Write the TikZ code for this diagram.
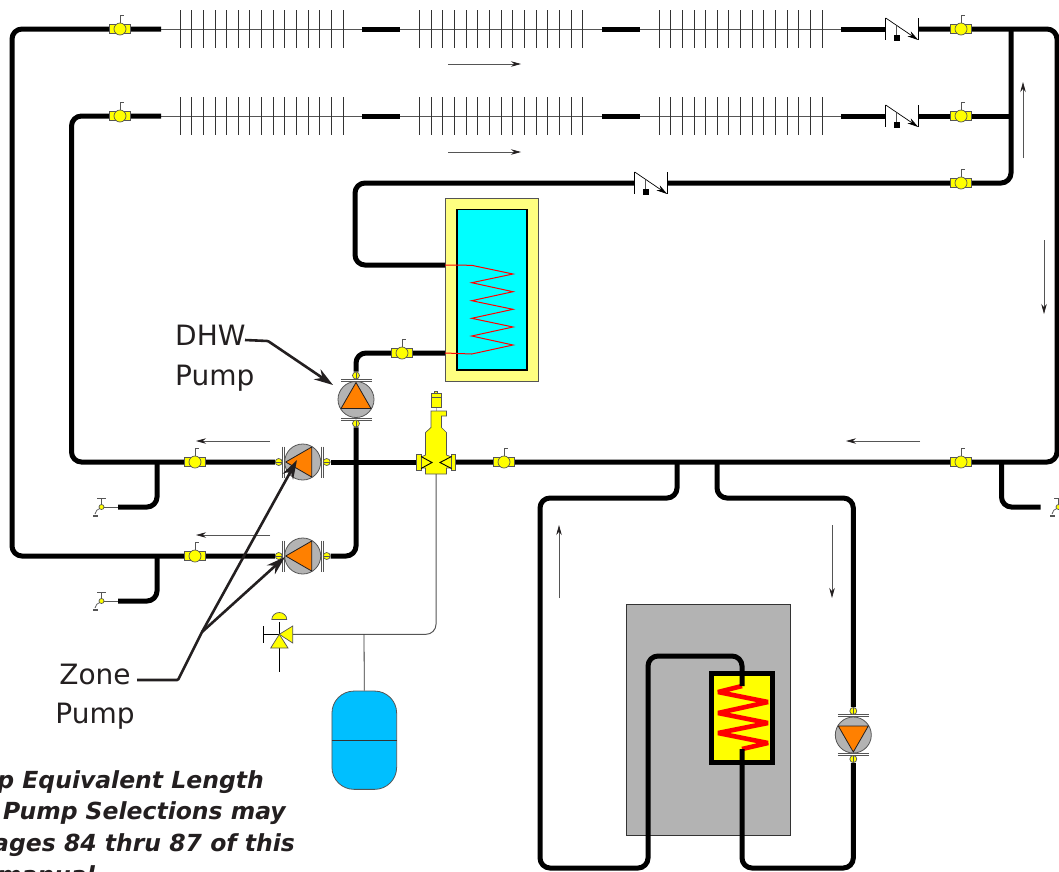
\documentclass[tikz,border=0pt]{standalone}
\usepackage{fontspec}
\setmainfont{DejaVu Sans}
\usetikzlibrary{arrows.meta,backgrounds}
\definecolor{inkdark}{HTML}{231F20}
\definecolor{trimgray}{HTML}{555555}
\definecolor{casegray}{HTML}{B3B3B3}
\definecolor{impeller}{HTML}{FF8000}
\definecolor{tankyellow}{HTML}{FFFF80}
\definecolor{vesselblue}{HTML}{00BFFF}
\definecolor{puryellow}{HTML}{FFFF00}
\definecolor{purcyan}{HTML}{00FFFF}
\definecolor{purred}{HTML}{FF0000}
\tikzset{
  pipe/.style={line width=5pt,black,rounded corners=10pt,line cap=butt},
  fine/.style={trimgray,line width=.7pt},
  flow/.style={fine,-{Stealth[length=10pt,width=5.5pt,inkdark]}},
  trim/.style={draw=trimgray,fill=puryellow,line width=.7pt},
  leader/.style={inkdark,line width=2.6pt,rounded corners=1pt},
  leadertip/.style={leader,-{Stealth[length=19pt,width=12pt]}},
  ballknob/.style={circle,trim,inner sep=0pt,minimum size=12pt},
  pumpcase/.style={circle,draw=trimgray,fill=casegray,line width=.8pt,inner sep=0pt,minimum size=36pt},
  pumpport/.style={circle,trim,inner sep=0pt,minimum size=7pt},
  pumplabel/.style={inkdark,font=\fontsize{28}{39.5}\selectfont,inner sep=0pt},
  notetext/.style={inkdark,font=\fontsize{23.5}{28}\selectfont\bfseries\itshape,inner sep=0pt,anchor=base east},
  ballvalve/.pic={
    \draw[trim] (-10.8,-4.4) rectangle (10.8,4.4);
    \node[ballknob] (-ball) at (0,0) {};
    \draw[fine] (0,-6) -- (0,-13.7) -- (4,-13.7);
  },
  checkvalve/.pic={
    \draw[black,line width=.9pt] (0,-11) -- (0,11);
    \draw[black,line width=.9pt] (32.5,-11) -- (32.5,11);
    \draw[black,line width=.7pt,-{Stealth[length=11pt,width=6pt]}] (0,-11) -- (32.5,11);
    \draw[fine] (11,-3.5) -- (11,6);
    \fill[black] (8,6) rectangle (14,12);
    \coordinate (-l) at (0,0);
    \coordinate (-r) at (32.5,0);
  },
  radiator/.pic={
    \foreach \finx in {0,...,14}
      \draw[black!80,line width=.9pt] (\finx*11.65,-19) -- (\finx*11.65,19);
  },
  pumpunit/.pic={
    \node[pumpcase] (-case) at (0,0) {};
    \draw[draw=inkdark,fill=impeller,line width=.8pt] (-17,0) -- (9,-15) -- (9,15) -- cycle;
    \foreach \barx in {-20,-18.2,18.8,20.6}
      \draw[trimgray,line width=.7pt] (\barx,-15.5) -- (\barx,15.5);
    \node[pumpport] (-in) at (-24,0) {};
    \node[pumpport] (-out) at (24,0) {};
    \draw[trimgray,line width=.4pt] (-27,0) -- (-21,0) (21,0) -- (27,0);
  },
  drainvalve/.pic={
    \draw[fine] (0,0) -- (0,-9) (-4.5,-9) -- (4.5,-9) (0,0) -- (16.5,0);
    \draw[fine] (-1,1) .. controls (-4,2) and (-6,4) .. (-6.5,7);
    \draw[fine] (-8.5,8) -- (-4,8) (-8.5,9.5) -- (-4,9.5);
    \node[circle,trim,inner sep=0pt,minimum size=5pt] (-knob) at (0,0) {};
    \coordinate (-r) at (16.5,0);
  },
}
\begin{document}
\begin{tikzpicture}[x=1pt,y=-1pt]
  \useasboundingbox (0,0) rectangle (1059,871);
  \clip (0,0) rectangle (1059,871);
  % valves and pumps
  \foreach \valvename/\valvex/\valvey in {vup/120/29,vlow/120/116,vupr/961/29,vlowr/961/116,vdhw/961/183,
    vtank/402/353,vmain/504/462,vret/961/462,vza/195/462,vzb/195/556}
    \pic (\valvename) at (\valvex,\valvey) {ballvalve};
  \pic (chkup) at (885.7,29) {checkvalve};
  \pic (chklow) at (885.7,116) {checkvalve};
  \pic (chkdhw) at (634.7,183) {checkvalve};
  \pic (pza) at (302.7,462) {pumpunit};
  \pic (pzb) at (302.7,556) {pumpunit};
  \pic[rotate=-90] (pdhw) at (356,399.5) {pumpunit};
  \pic[rotate=90] (pboil) at (853.3,735) {pumpunit};
  \pic (dra) at (101.5,507) {drainvalve};
  \pic (drb) at (101.5,601) {drainvalve};
  \pic (drc) at (1058.5,507) {drainvalve};
  % corners
  \foreach \cname/\cx/\cy in {cnw/12/29,csw/12/556,cmw/71.5/116,cms/71.5/462,cne/1057/29,cse/1057/462,
    triser/1011/29,tlow/1011/116,crise/1011/183,cdhwa/355/183,cdhwb/355/265,ctanka/445/265,ctankb/445/353,
    cdhwc/356/353,cdhwd/356/556,tda/157/462,cda/157/507,tdb/157/556,cdb/157/601,tdc/1001.5/462,cdc/1001.5/507,
    tba/677/462,cba/677/498,cbb/540/498,cbc/540/868,cbd/648/868,cbe/648/656,cbf/742/656,cbg/742/686,
    cbh/742/749,cbi/742/868,cbj/853.3/868,cbk/853.3/498,cbl/717/498,tbb/717/462}
    \coordinate (\cname) at (\cx,\cy);
  % separator
  \begin{scope}[shift={(436,462)}]
    \draw[casegray,line width=.8pt] (0,-54.5) -- (0,-51);
    \draw[trim] (-4.5,-65) rectangle (5,-54.5);
    \draw[trim] (-5,-69) rectangle (5.5,-65);
    \draw[trim] (-1.5,-71) rectangle (1.5,-69);
    \draw[trim] (-5,-34.5) -- (-5,-51) -- (10.5,-51) -- (10.5,-46) -- (5.5,-46) -- (5.5,-34.5) -- (10.5,-29.5)
      -- (10.5,-7) -- (15.5,-5) -- (15.5,6) -- (10.5,6) -- (10.5,12) -- (-10.5,12) -- (-10.5,6) -- (-15,6)
      -- (-15,-5) -- (-10.5,-7) -- (-10.5,-29.5) -- cycle;
    \draw[trim] (-19.5,-7.5) rectangle (-15,8.5);
    \draw[trim] (15.5,-7.5) rectangle (19.5,8.5);
    \draw[black,line width=.9pt] (-15,-5.5) -- (-4,.5) -- (-15,6.5);
    \draw[black,line width=.9pt] (15.5,-5.5) -- (4,.5) -- (15.5,6.5);
    \coordinate (sepl) at (-19.5,0);
    \coordinate (sepr) at (19.5,0);
    \coordinate (sepb) at (0,12);
  \end{scope}
  \begin{scope}[on background layer]
    % tank
    \draw[draw=trimgray,fill=tankyellow,line width=1pt] (445.5,198) rectangle (538.5,381);
    \draw[draw=black,fill=purcyan,line width=1.3pt] (457,209.5) rectangle (527,370);
    % boiler
    \draw[draw=black!80,fill=casegray,line width=1.2pt] (626.5,604.7) rectangle (790.7,835.5);
    \draw[draw=black,fill=puryellow,line width=5pt] (711.5,673.5) rectangle (772.5,762.5);
    \draw[purred,line width=4.6pt,line join=bevel] (cbg) -- (718,692) -- (768,702) -- (718,713) -- (768,723) -- (718,733) -- (768,743) -- (cbh);
    % radiators
    \foreach \rowname/\rowy in {up/29,low/116} {
      \coordinate (\rowname in) at (161,\rowy);
      \coordinate (\rowname out) at (841,\rowy);
      \draw[fine] (\rowname in) -- (\rowname out);
      \foreach \finstart in {180,419.5,659}
        \pic at (\finstart,\rowy) {radiator};
      \draw[pipe] (362,\rowy) -- (400,\rowy);
      \draw[pipe] (602,\rowy) -- (640,\rowy);
    }
    % pipes
    \draw[pipe] (upin) -- (vup-ball) -- (cnw) -- (csw) -- (vzb-ball) -- (pzb-in);
    \draw[pipe] (lowin) -- (vlow-ball) -- (cmw) -- (cms) -- (vza-ball) -- (pza-in);
    \draw[pipe] (upout) -- (chkup-l);
    \draw[pipe] (lowout) -- (chklow-l);
    \draw[pipe] (chkup-r) -- (vupr-ball) -- (cne) -- (cse) -- (vret-ball) -- (vmain-ball) -- (sepr);
    \draw[pipe] (chklow-r) -- (vlowr-ball) -- (tlow);
    \draw[pipe] (triser) -- (crise) -- (vdhw-ball) -- (chkdhw-r);
    \draw[pipe] (chkdhw-l) -- (cdhwa) -- (cdhwb) -- (ctanka);
    \draw[pipe] (ctankb) -- (vtank-ball) -- (cdhwc) -- (pdhw-in);
    \draw[pipe] (pdhw-out) -- (cdhwd) -- (pzb-out);
    \draw[pipe] (pza-out) -- (sepl);
    \draw[pipe] (tda) -- (cda) -- (dra-r);
    \draw[pipe] (tdb) -- (cdb) -- (drb-r);
    \draw[pipe] (tdc) -- (cdc) -- (1040.5,507);
    \draw[pipe] (tba) -- (cba) -- (cbb) -- (cbc) -- (cbd) -- (cbe) -- (cbf) -- (cbg);
    \draw[pipe] (cbh) -- (cbi) -- (cbj) -- (pboil-in);
    \draw[pipe] (pboil-out) -- (cbk) -- (cbl) -- (tbb);
  \end{scope}
  % coil
  \draw[purred,line width=1pt] (ctanka) -- (471.7,265.3) -- (513,274) -- (471.7,282.7) -- (513,291.7) -- (471.7,300.7)
    -- (513,309.3) -- (471.7,318.3) -- (513,327) -- (471.7,336) -- (513,345) -- (471.7,354) -- (ctankb);
  % relief line and expansion vessel
  \coordinate (relief) at (279.3,634.3);
  \coordinate (reliefend) at (292.7,634.3);
  \coordinate (linecorner) at (436,634.3);
  \coordinate (teevessel) at (364,634.3);
  \node[draw=trimgray,fill=vesselblue,rounded corners=22pt,line width=.8pt,minimum width=64.7pt,minimum height=98.3pt,inner sep=0pt] (vessel) at (364.3,740.2) {};
  \draw[trimgray,line width=1pt,rounded corners=10pt] (sepb) -- (linecorner) -- (reliefend);
  \draw[black!80,line width=.8pt] (teevessel) -- (vessel.north);
  \draw[black!80,line width=.8pt] (vessel.west) -- (vessel.east);
  \draw[black,line width=.8pt] (263.3,626) -- (263.3,643) (263.3,634.3) -- (relief) (relief |- 0,622) -- (relief |- 0,672);
  \draw[trim] (relief) -- (292.7,626) -- (292.7,643) -- cycle;
  \draw[trim] (relief) -- (288,648) -- (270.7,648) -- cycle;
  \draw[trim] (271.8,619.5) arc[start angle=180,end angle=360,x radius=7.5,y radius=7] -- cycle;
  % flow arrows
  \foreach \fax/\fay/\fbx/\fby in {448/64/521/64,448/152/521/152,1023/158/1023/82,1044/240/1044/314,920/441/846/441,
    270/441/196/441,270/535/196/535,559/598/559/525,832/525/832/598}
    \draw[flow] (\fax,\fay) -- (\fbx,\fby);
  % labels
  \node[pumplabel,align=left,anchor=north west] (dhwlabel) at (175,325) {DHW\\Pump};
  \node[pumplabel,align=center] (zonelabel) at (95,696.5) {Zone\\Pump};
  \coordinate (dhwa) at (245,340);
  \coordinate (dhwb) at (268,341);
  \coordinate (zonea) at (137,680);
  \coordinate (zoneb) at (178,680);
  \coordinate (zonec) at (202,632);
  \coordinate (tipa) at (297,460);
  \coordinate (tipb) at (285,557);
  \coordinate (tipc) at (333,385);
  \draw[leadertip] (dhwa) -- (dhwb) -- (tipc);
  \draw[leadertip] (zonea) -- (zoneb) -- (zonec) -- (tipa);
  \draw[leadertip] (zonec) -- (tipb);
  \node[notetext] (notea) at (264,788) {Pump Equivalent Length};
  \node[notetext] (noteb) at (286,819.7) {Pump Selections may};
  \node[notetext] (notec) at (295,851.5) {pages 84 thru 87 of this};
  \node[notetext] (noted) at (95,883) {manual};
\end{tikzpicture}
\end{document}
